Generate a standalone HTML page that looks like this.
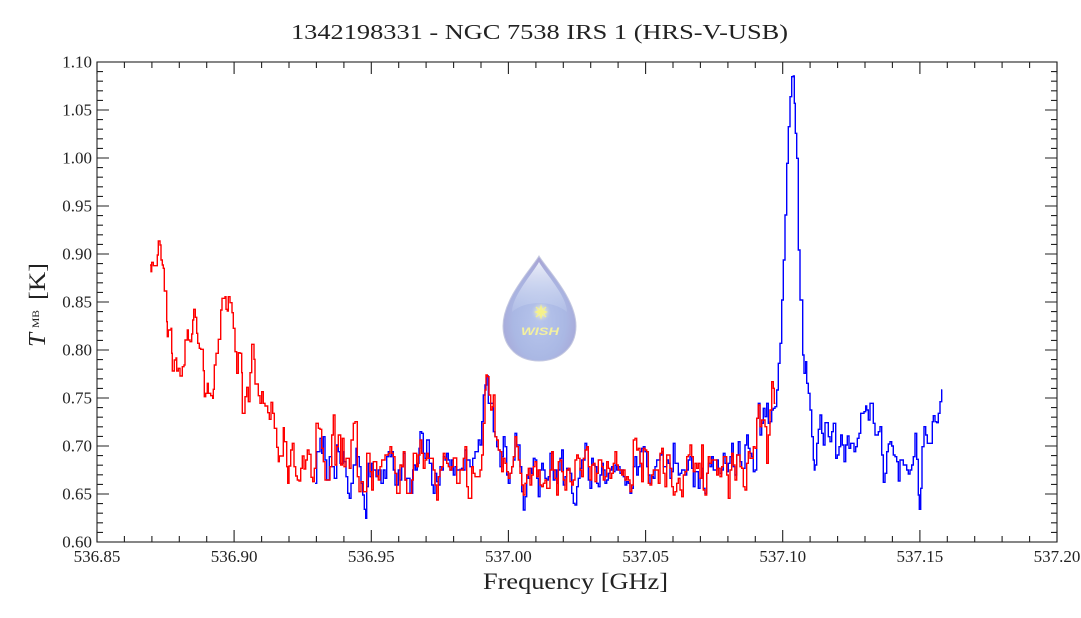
<!DOCTYPE html>
<html>
<head>
<meta charset="utf-8">
<style>
html,body{margin:0;padding:0;background:#fff;}
svg{display:block;}
text{font-family:"Liberation Serif","DejaVu Serif",serif;fill:#222;}
</style>
</head>
<body>
<svg id="chart" width="1081" height="618" viewBox="0 0 1081 618" xmlns="http://www.w3.org/2000/svg">
<defs>
<radialGradient id="dropG" cx="0.5" cy="0.62" r="0.6">
<stop offset="0" stop-color="#b7c5ec"/>
<stop offset="0.6" stop-color="#aab8e4"/>
<stop offset="1" stop-color="#a7a3d4"/>
</radialGradient>
<linearGradient id="hiG" x1="0" y1="0" x2="0" y2="1">
<stop offset="0" stop-color="#eef2fb" stop-opacity="0.95"/>
<stop offset="1" stop-color="#cfd9f2" stop-opacity="0.2"/>
</linearGradient>
<radialGradient id="starG" cx="0.5" cy="0.5" r="0.5">
<stop offset="0" stop-color="#ffffff" stop-opacity="0.9"/>
<stop offset="0.4" stop-color="#f8f6b0" stop-opacity="0.7"/>
<stop offset="1" stop-color="#c0ccee" stop-opacity="0"/>
</radialGradient>
</defs>

<!-- title -->
<text x="291" y="39" font-size="21" textLength="497" lengthAdjust="spacingAndGlyphs">1342198331 - NGC 7538 IRS 1 (HRS-V-USB)</text>

<!-- logo -->
<g>
<path d="M539,256 C532,268 503,298 503,326 C503,348 519,361 539,361 C559,361 576,348 576,326 C576,298 546,268 539,256 Z" fill="url(#dropG)" stroke="#c4c8e0" stroke-width="1"/>
<path d="M539,262 C533,273 512,296 512,312 C525,300 553,300 567,312 C567,296 545,273 539,262 Z" fill="url(#hiG)"/>
<circle cx="541" cy="312" r="10" fill="url(#starG)"/>
<path d="M541,304 L542.5,310 L548,312 L542.5,314 L541,320 L539.5,314 L534,312 L539.5,310 Z" fill="#f6f28a"/>
<path d="M536,307 L541,312 L546,317 M546,307 L541,312 L536,317" stroke="#f6f28a" stroke-width="1.2"/>
<text x="540" y="335" text-anchor="middle" style="font-family:'Liberation Sans',sans-serif;font-size:11px;font-weight:bold;font-style:italic;fill:#f3f0a0" textLength="38" lengthAdjust="spacingAndGlyphs">WISH</text>
</g>

<g id="series"></g>
<g id="axes"></g>

<!-- axis labels -->
<text x="483" y="589" font-size="23" textLength="185" lengthAdjust="spacingAndGlyphs">Frequency [GHz]</text>
<text transform="translate(45,347) rotate(-90)" font-size="24" font-style="italic" textLength="14" lengthAdjust="spacingAndGlyphs">T</text>
<text transform="translate(39,328) rotate(-90)" font-size="9" textLength="18" lengthAdjust="spacingAndGlyphs">MB</text>
<text transform="translate(45,300) rotate(-90)" font-size="23" textLength="37" lengthAdjust="spacingAndGlyphs">[K]</text>
</svg>

<script>
(function(){
var NS="http://www.w3.org/2000/svg";
var L=97,R=1057,T=62,B=542;
var axes=document.getElementById("axes");
function el(tag,attrs,parent){var e=document.createElementNS(NS,tag);for(var k in attrs)e.setAttribute(k,attrs[k]);(parent||axes).appendChild(e);return e;}
var d="";
var pxPer=(R-L)/0.35;
for(var i=0;i<=35;i++){
  var x=L+i*0.01*pxPer; x=Math.round(x*10)/10;
  var len=(i%5==0)?12:6;
  d+="M"+x+","+B+"V"+(B-len)+"M"+x+","+T+"V"+(T+len);
}
var pyPer=(B-T)/0.5;
for(var j=0;j<=50;j++){
  var y=T+j*0.01*pyPer; y=Math.round(y*10)/10;
  var len2=(j%5==0)?12:6;
  d+="M"+L+","+y+"H"+(L+len2)+"M"+R+","+y+"H"+(R-len2);
}
el("path",{d:d,stroke:"#222","stroke-width":"1.1",fill:"none"});
el("rect",{x:L,y:T,width:R-L,height:B-T,fill:"none",stroke:"#222","stroke-width":"1.1"});
var xl=["536.85","536.90","536.95","537.00","537.05","537.10","537.15","537.20"];
for(var i=0;i<xl.length;i++){
  var t=el("text",{x:(L+i*0.05*pxPer),y:562,"font-size":"17","text-anchor":"middle"});
  t.textContent=xl[i];
}
var yl=["1.10","1.05","1.00","0.95","0.90","0.85","0.80","0.75","0.70","0.65","0.60"];
for(var j=0;j<yl.length;j++){
  var t2=el("text",{x:92,y:(T+j*0.05*pyPer+5.5),"font-size":"17","text-anchor":"end"});
  t2.textContent=yl[j];
}

function seg(ox,oy,arr){return arr.map(function(p){return [ox+p[0]/3, oy+p[1]/3];});}
var R4=seg(140,230,[[30,105],[33,125],[35,97],[40,107],[52,75],[55,33],[60,45],[63,90],[67,105],[70,115],[73,183],[80,275],[82,320],[85,300],[93,295],[95,370],[97,423],[103,390],[108,384],[110,423],[115,415],[120,438],[127,410],[132,405],[135,330],[142,300],[145,330],[150,335],[155,312],[158,270],[161,238],[166,262],[170,310],[173,340],[178,355],[182,358],[190,422],[193,500],[197,490],[202,460],[205,490],[212,497],[218,505],[220,478],[223,405],[228,370],[235,328],[242,240],[246,205],[255,200],[258,238],[262,243],[265,200],[270,218],[276,248],[280,295],[285,365],[290,430],[295,368],[300,370],[305,428],[307,550],[315,500],[320,472],[325,515],[330,428],[335,343],[342,388],[345,462],[355,497],[360,520],[365,485],[370,520],[375,528],[383,548],[388,568],[393,517],[398,550],[403,595],[410,597]]);
var R5=seg(270,370,[[20,232],[25,275],[28,258],[40,173],[43,215],[50,290],[53,340],[57,288],[62,240],[67,220],[72,290],[77,318],[82,330],[87,333],[92,295],[97,258],[102,297],[107,270],[112,240],[117,253],[123,322],[128,335],[133,295],[138,160],[145,175],[150,178],[155,235],[160,275],[165,330],[180,290],[185,195],[190,135],[195,285],[200,230],[205,195],[212,285],[217,205],[222,290],[228,265],[238,295],[243,210],[250,160],[255,155],[262,320],[267,365],[273,335],[280,365],[290,250],[300,305],[305,360],[310,275],[320,318],[325,330],[330,290],[335,270],[345,255],[355,250],[360,230],[365,250],[370,260],[375,310],[380,370],[390,285],[395,290],[400,245],[405,330],[410,370],[425,330],[430,250],[440,290],[445,255],[450,210],[455,250],[460,295],[465,270],[470,250],[475,265],[490,300],[495,345],[500,390],[505,320],[510,300],[515,290],[520,250],[525,265],[530,280],[535,290],[540,300],[545,290],[550,264],[560,340],[570,300],[580,265],[585,230],[590,350],[595,385]]);
var R6=seg(460,370,[[30,385],[35,290],[40,310],[45,320],[60,300],[65,255],[70,160],[75,60],[78,15],[82,20],[87,75],[92,120],[97,110],[100,75],[105,200],[110,210],[115,240],[120,245],[125,305],[130,265],[135,280],[140,305],[145,325],[150,310],[155,290],[160,260],[165,200],[170,230],[175,270],[180,310],[185,345],[190,375],[195,340],[200,315],[205,295],[210,345],[215,315],[220,290],[225,275],[230,320],[235,300],[240,345],[245,350],[250,340],[255,330],[260,355],[270,300],[275,245],[280,300],[285,325],[290,375],[295,275],[300,270],[305,305],[310,330],[315,360],[320,300],[325,295],[330,335],[335,345],[340,330],[345,270],[350,255],[355,265],[360,300],[365,320],[370,265],[375,240],[380,230],[385,290],[390,330],[395,285],[400,280],[405,335],[410,310],[415,270],[425,290],[430,330],[435,320],[440,275],[445,295],[450,325],[455,310],[460,280],[465,245],[470,285],[475,300],[485,315],[490,300],[495,330],[500,320],[505,330],[510,365],[515,345],[520,210],[525,205],[530,240],[535,235],[540,280],[545,335],[550,235],[555,240],[560,245],[565,340],[570,345],[575,315],[580,300],[595,340]]);
var R7=seg(640,360,[[60,280],[65,265],[70,340],[75,380],[80,285],[90,325],[95,380],[100,405],[105,395],[110,370],[115,355],[120,390],[125,410],[130,345],[135,335],[140,290],[145,285],[150,255],[155,290],[160,335],[165,310],[170,325],[175,310],[180,355],[185,255],[190,390],[195,405],[200,340],[205,290],[210,310],[215,300],[230,345],[235,325],[240,350],[245,320],[250,290],[260,345],[265,415],[270,330],[275,280],[280,315],[285,360],[290,285],[300,320],[305,325],[310,380],[315,390],[320,310],[325,275],[330,295],[340,260],[345,265],[350,175],[355,135],[360,200],[365,180],[375,200],[380,310],[385,225],[390,150],[395,65],[400,85],[403,130],[406,130]]);

var B5=seg(270,370,[[135,340],[140,245],[150,205],[155,250],[160,200],[165,270],[170,330],[178,260],[185,290],[193,325],[200,225],[205,245],[210,280],[218,245],[222,275],[228,320],[233,370],[238,385],[243,340],[250,285],[258,235],[262,260],[268,290],[273,340],[278,375],[283,418],[287,445],[290,350],[295,280],[300,320],[305,280],[310,300],[318,320],[325,300],[333,340],[340,300],[345,325],[350,260],[355,245],[360,260],[365,245],[370,300],[375,345],[385,300],[390,330],[395,290],[400,250],[405,330],[410,325],[420,370],[428,300],[432,285],[437,300],[442,280],[447,235],[450,185],[455,190],[460,250],[465,265],[470,210],[478,280],[485,345],[490,370],[495,310],[500,335],[505,345],[510,290],[515,300],[520,260],[525,270],[530,250],[535,270],[540,300],[545,270],[550,315],[555,290],[560,300],[565,300],[570,298],[575,295],[580,300],[585,240],[590,270]]);
var B6=seg(460,370,[[30,290],[38,265],[45,245],[55,210],[60,225],[65,155],[70,75],[75,45],[80,18],[85,100],[100,185],[105,200],[110,230],[115,240],[120,290],[125,260],[130,200],[135,230],[140,315],[145,340],[150,310],[155,290],[160,270],[165,190],[170,225],[180,290],[185,365],[190,420],[195,380],[200,315],[205,325],[210,295],[215,310],[220,265],[225,270],[230,325],[235,380],[240,300],[245,280],[250,300],[255,325],[260,330],[265,320],[270,250],[275,245],[280,330],[285,300],[290,340],[295,300],[300,265],[305,240],[310,345],[315,320],[320,295],[325,300],[330,310],[335,370],[340,400],[345,405],[350,350],[355,325],[360,295],[365,270],[375,220],[380,230],[385,330],[390,355],[395,265],[400,285],[405,290],[410,340],[415,350],[420,315],[425,280],[430,300],[435,340],[440,330],[445,310],[450,300],[455,290],[460,305],[465,285],[470,300],[475,290],[480,310],[485,300],[490,320],[495,345],[500,335],[505,340],[510,370],[515,355],[520,290],[525,260],[530,315],[535,290],[540,245],[545,235],[550,230],[555,245],[560,290],[565,315],[570,340],[575,320],[580,325],[585,290],[590,270]]);
var B7=seg(640,360,[[60,285],[65,275],[70,320],[80,300],[85,310],[90,355],[95,335],[100,250],[105,310],[115,345],[120,340],[125,330],[135,345],[140,330],[145,300],[150,290],[155,325],[160,380],[165,335],[175,385],[180,355],[185,325],[190,385],[195,400],[200,340],[205,310],[210,320],[215,290],[220,330],[230,300],[235,325],[240,340],[245,330],[250,280],[255,310],[260,335],[265,310],[270,290],[275,250],[280,320],[285,345],[290,285],[295,245],[300,305],[305,325],[315,255],[320,225],[325,265],[330,280],[335,290],[340,335],[345,330],[350,175],[355,130],[360,225],[365,190],[370,145],[375,170],[380,130],[385,190],[390,185],[395,150],[400,145],[405,140],[410,90]]);
var B8=seg(760,60,[[55,910],[60,850],[65,720],[70,600],[75,465],[80,310],[85,200],[90,110],[95,50],[100,48],[103,130],[106,220],[110,295],[115,570],[120,720],[128,885],[132,940],[137,905],[140,970],[145,1000],[150,1050],[155,1130],[160,1200]]);
var B9=seg(800,350,[[43,360],[45,345],[50,280],[55,238],[60,195],[65,250],[70,285],[75,218],[85,260],[90,275],[95,245],[100,220],[107,325],[112,315],[117,290],[122,255],[127,285],[132,335],[137,285],[142,258],[147,295],[152,280],[162,305],[167,290],[172,265],[177,250],[182,190],[192,185],[197,168],[200,180],[205,210],[210,160],[220,220],[225,255],[235,245],[240,230],[245,315],[250,397],[255,370],[260,305],[265,282],[270,275],[275,288],[280,315],[285,320],[290,335],[295,393],[300,330],[310,345],[320,360],[325,372],[330,360],[335,345],[340,320],[345,250],[350,328],[355,435],[358,478],[362,415],[366,290],[372,230],[377,255],[382,280],[392,280],[397,215],[400,197],[405,215],[410,218],[415,190],[420,155],[425,120],[427,120]]);

function stepPath(pts){
  var s="M"+pts[0][0].toFixed(1)+","+pts[0][1].toFixed(1);
  for(var i=1;i<pts.length;i++){
    s+="H"+pts[i][0].toFixed(1)+"V"+pts[i][1].toFixed(1);
  }
  return s;
}
var sg=document.getElementById("series");
var blue=[].concat(B5,B6,B7,B8,B9);
var red=[].concat(R4,R5,R6,R7);
el("path",{d:stepPath(blue),stroke:"#0000ff","stroke-width":"1.4",fill:"none","stroke-linejoin":"miter"},sg);
el("path",{d:stepPath(red),stroke:"#ff0000","stroke-width":"1.4",fill:"none","stroke-linejoin":"miter"},sg);
})();
</script>
</body>
</html>
